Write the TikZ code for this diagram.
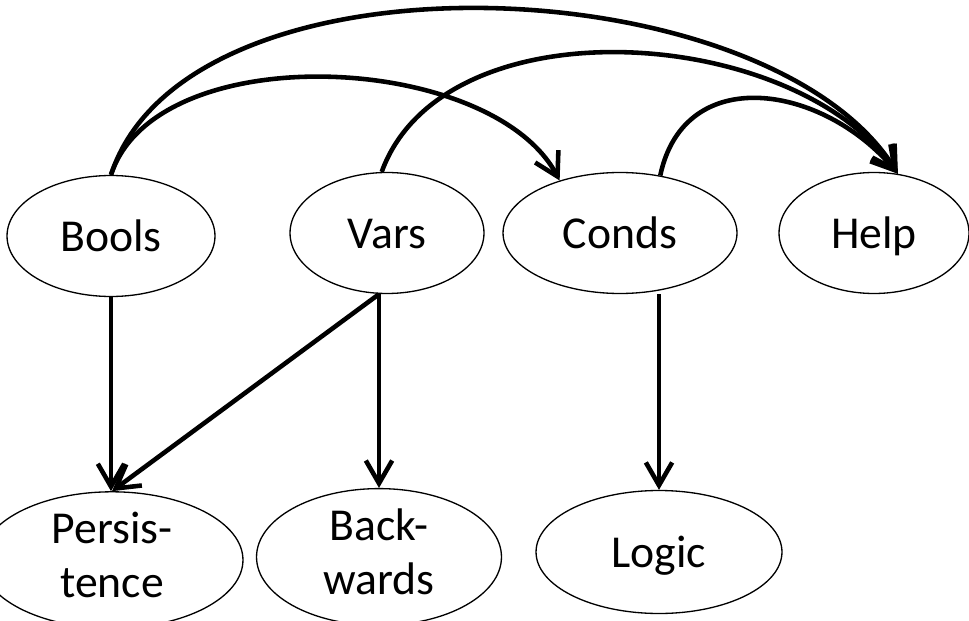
\documentclass[tikz,border=0pt]{standalone}
\usepackage{fontspec}
\setmainfont{Carlito}
\usepackage{tikz}
\usetikzlibrary{shapes,arrows.meta,positioning}
\newcommand{\topicstrut}{\rule[-6pt]{0pt}{30pt}}
\tikzstyle{topic} = [ellipse, draw, line width=0.75pt, inner sep=0pt,
                     minimum height=2.42cm, align=center,
                     font=\fontsize{26}{31}\selectfont,
                     execute at begin node=\topicstrut,
                     execute at end node=\topicstrut]
\tikzstyle{arrow} = [line width=2.6pt, -{Straight Barb[length=13pt,width=15pt]}]

\begin{document}
\begin{tikzpicture}[x=0.02cm,y=-0.02cm]
		\useasboundingbox (0,0) rectangle (969,621);

		\node[topic,minimum width=4.16cm] (bools) at (111,236) {Bools};
		\node[topic,minimum width=3.88cm] (vars) at (387,233) {Vars};
		\node[topic,minimum width=4.68cm] (conds) at (620,233) {Conds};
		\node[topic,minimum width=3.8cm] (help) at (874,233) {Help};

		\node[topic,minimum width=5.24cm,minimum height=2.4cm] (persist) at (112,560) {Persis-\\tence};
		\node[topic,minimum width=4.9cm,minimum height=2.48cm] (back) at (379,557) {Back-\\wards};
		\node[topic,minimum width=4.92cm,minimum height=2.46cm] (logic) at (659,552) {Logic};

		\draw[arrow] (bools.south) -- (bools.south |- persist.north);
		\draw[arrow] (vars.south -| back.north) -- (persist.north);
		\draw[arrow] (vars.south -| back.north) -- (back.north);
		\draw[arrow] (conds.south -| logic.north) -- (logic.north);

		\draw[arrow] (bools.north) to[out=72,in=122,looseness=0.8] (help.68);
		\draw[arrow] (bools.north) to[out=72,in=118,looseness=0.83] (conds.139);
		\draw[arrow] (vars.95) to[out=70,in=125,looseness=0.9] (help.68);
		\draw[arrow] (conds.55) to[out=78,in=130,looseness=1.25] (help.68);
	\end{tikzpicture}
\end{document}
